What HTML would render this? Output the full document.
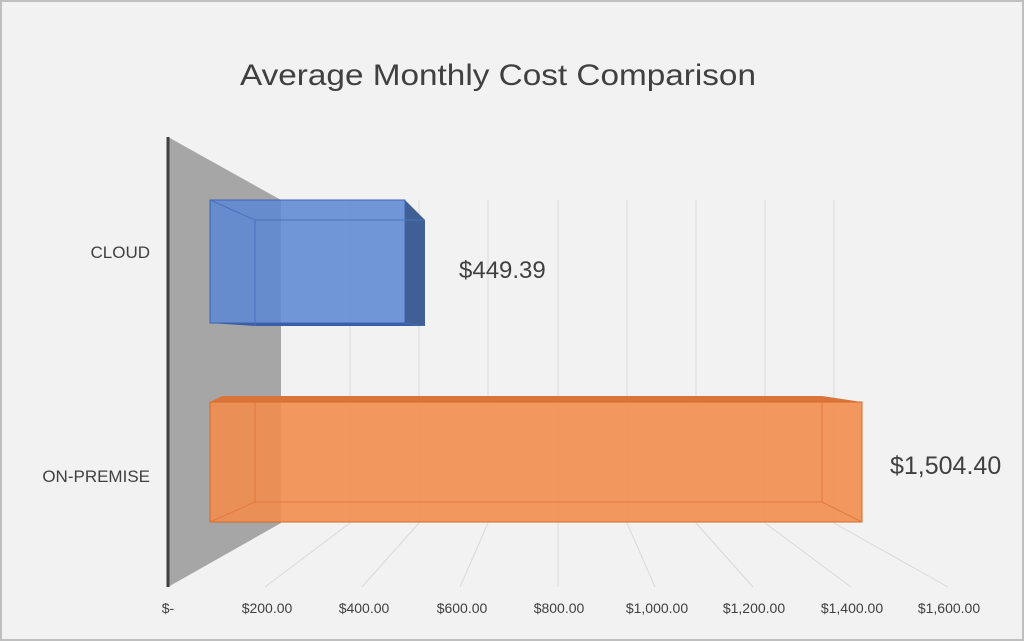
<!DOCTYPE html><html><head><style>body{margin:0;background:#f2f2f2}svg{display:block}text{font-family:"Liberation Sans",sans-serif;fill:#404040}</style></head><body>
<svg width="1024" height="641" viewBox="0 0 1024 641">
<rect x="1" y="1" width="1022" height="639" fill="#f2f2f2" stroke="#bfbfbf" stroke-width="2"/>
<text x="498" y="85" font-size="30" text-anchor="middle" textLength="516" lengthAdjust="spacingAndGlyphs" fill="#404040">Average Monthly Cost Comparison</text>
<polygon points="168,137 281,200 281,523 168,587" fill="#a6a6a6"/>
<g stroke="#d9d9d9" stroke-width="1">
<line x1="350" y1="200" x2="350" y2="523"/><line x1="419" y1="200" x2="419" y2="523"/><line x1="488" y1="200" x2="488" y2="523"/><line x1="558" y1="200" x2="558" y2="523"/><line x1="627" y1="200" x2="627" y2="523"/><line x1="696" y1="200" x2="696" y2="523"/><line x1="765" y1="200" x2="765" y2="523"/><line x1="834" y1="200" x2="834" y2="523"/>
<line x1="350" y1="523" x2="265" y2="587"/><line x1="419" y1="523" x2="362" y2="587"/><line x1="488" y1="523" x2="460" y2="587"/><line x1="558" y1="523" x2="558" y2="587"/><line x1="627" y1="523" x2="655" y2="587"/><line x1="696" y1="523" x2="753" y2="587"/><line x1="765" y1="523" x2="851" y2="587"/><line x1="834" y1="523" x2="948" y2="587"/>
</g>
<line x1="168" y1="137" x2="168" y2="587" stroke="#404040" stroke-width="3"/>
<polygon points="405,200 425,220 425,326 405,323" fill="#3f5f95"/>
<rect x="210" y="200" width="195" height="123" fill="#5f89d3" fill-opacity="0.88" stroke="#3a64b4"/>
<polygon points="210,323 405,323 425,326 255,326" fill="#3a5ea8"/>
<line x1="210" y1="200" x2="255" y2="220" stroke="#4a72bd"/><line x1="255" y1="220" x2="425" y2="220" stroke="#4a72bd"/><line x1="255" y1="220" x2="255" y2="326" stroke="#4a72bd"/>
<polygon points="222,396 822,396 862,402 210,402" fill="#d9743a"/>
<rect x="210" y="402" width="652" height="120" fill="#f28e4f" fill-opacity="0.9" stroke="#d66a2a"/>
<line x1="255" y1="402" x2="255" y2="502" stroke="#e07a3d"/><line x1="822" y1="402" x2="822" y2="502" stroke="#e07a3d"/>
<line x1="255" y1="502" x2="822" y2="502" stroke="#e07a3d"/><line x1="210" y1="522" x2="255" y2="502" stroke="#e07a3d"/><line x1="862" y1="522" x2="822" y2="502" stroke="#e07a3d"/>
<text x="150" y="258" font-size="17" text-anchor="end">CLOUD</text>
<text x="150" y="482" font-size="17" text-anchor="end">ON-PREMISE</text>
<text x="459" y="278" font-size="24">$449.39</text>
<text x="890" y="474" font-size="25">$1,504.40</text>
<g font-size="14" text-anchor="middle">
<text x="168" y="613">$-</text><text x="267" y="613">$200.00</text><text x="364" y="613">$400.00</text><text x="462" y="613">$600.00</text><text x="559" y="613">$800.00</text><text x="657" y="613">$1,000.00</text><text x="754" y="613">$1,200.00</text><text x="852" y="613">$1,400.00</text><text x="949" y="613">$1,600.00</text>
</g>
</svg></body></html>
